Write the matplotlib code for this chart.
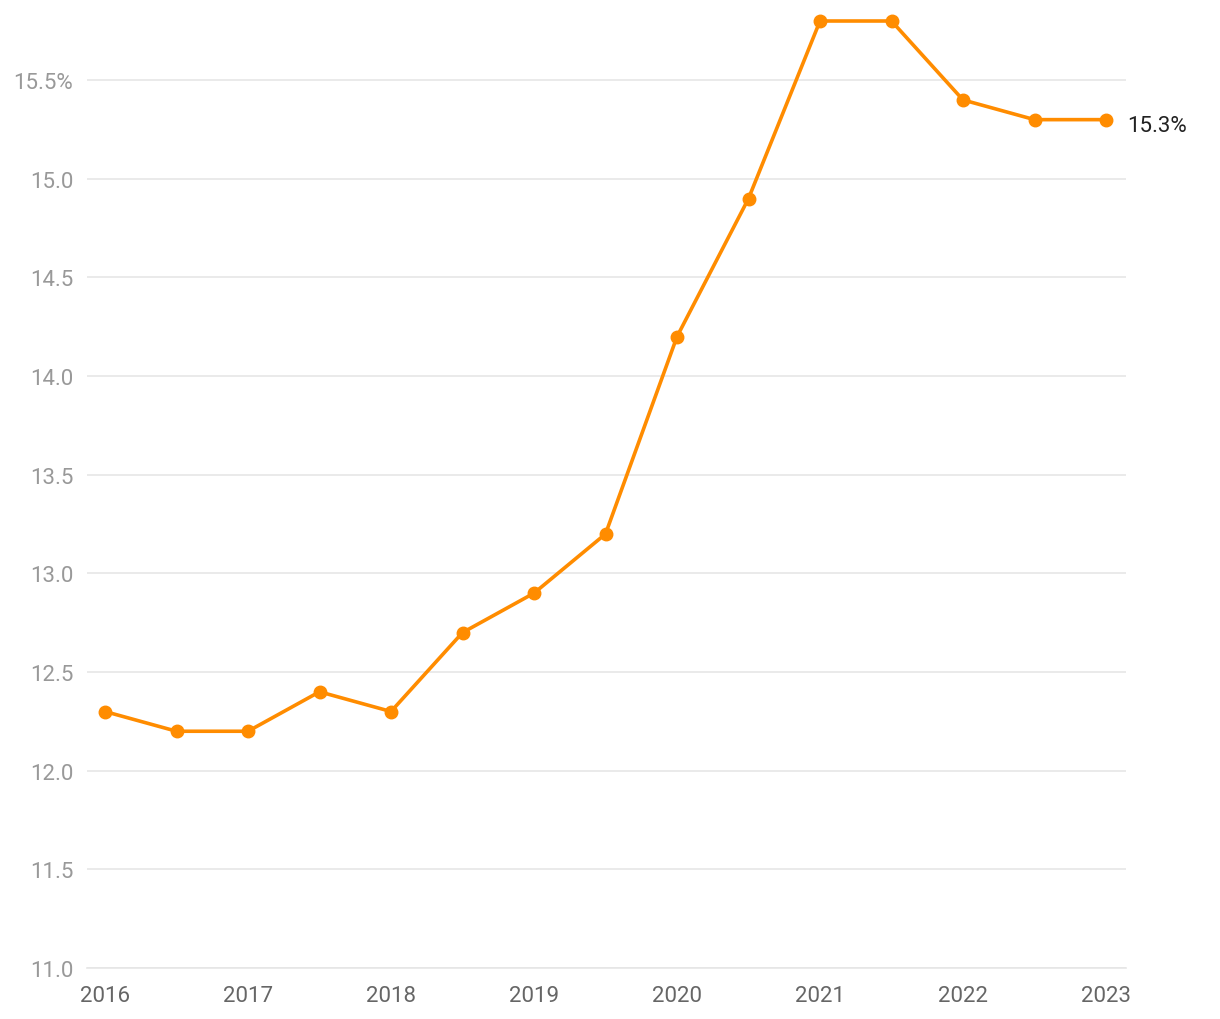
import matplotlib.pyplot as plt

plt.rcParams["font.family"] = ["Roboto", "DejaVu Sans"]

periods = [2016, 2016.5, 2017, 2017.5, 2018, 2018.5, 2019, 2019.5,
           2020, 2020.5, 2021, 2021.5, 2022, 2022.5, 2023]
values = [12.3, 12.2, 12.2, 12.4, 12.3, 12.7, 12.9, 13.2,
          14.2, 14.9, 15.8, 15.8, 15.4, 15.3, 15.3]
year_ticks = [2016, 2017, 2018, 2019, 2020, 2021, 2022, 2023]
y_ticks = [11.0, 11.5, 12.0, 12.5, 13.0, 13.5, 14.0, 14.5, 15.0, 15.5]

ORANGE = "#ff8c00"

fig = plt.figure(figsize=(12.2, 10.2), dpi=100)
ax = fig.add_axes([87 / 1220, 1 - 969 / 1020, (1126 - 87) / 1220, (969 - 22) / 1020])

ax.plot(periods, values, color=ORANGE, linewidth=2.6, marker="o",
        markersize=9, clip_on=False, zorder=3)
# end label, a bit below the point like the original
ax.annotate(f"{values[-1]:.1f}%", (periods[-1], values[-1]),
            xytext=(15, -4), textcoords="offset points",
            color="#222222", fontsize=16, va="center", ha="left")

ax.set_xlim(2016 - 18 / 143, 2023 + 20 / 143)
ax.set_ylim(11.0, 15.8)
ax.set_xticks(year_ticks)
ax.set_xticklabels([str(y) for y in year_ticks])
ax.set_yticks(y_ticks)
ax.set_yticklabels([f"{v:.1f}%" if v == y_ticks[-1] else f"{v:.1f}" for v in y_ticks])

ax.grid(True, axis="y", color="#e6e6e6", linewidth=1.2)
ax.set_axisbelow(True)
for side in ["top", "right", "left"]:
    ax.spines[side].set_visible(False)
ax.spines["bottom"].set_color("#e6e6e6")
ax.spines["bottom"].set_linewidth(1.2)

ax.tick_params(axis="y", length=0, pad=10, labelsize=16, labelcolor="#999999")
ax.tick_params(axis="x", length=0, pad=12, labelsize=16, labelcolor="#666666")

fig.savefig("out.png", dpi=100)
